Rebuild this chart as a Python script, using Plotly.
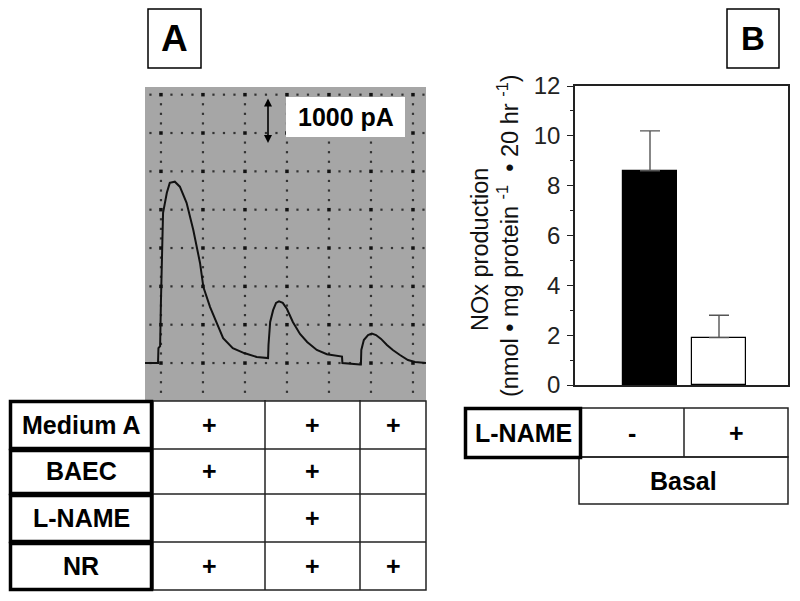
import numpy as np
import plotly.graph_objects as go

# ---------------- DATA ----------------
# Panel A: amperometric trace (x in grid divisions, y in grid divisions above baseline)
trace_time = [-0.38, -0.07, -0.06, -0.02, 0.00, 0.02, 0.05, 0.14, 0.21, 0.33, 0.45, 0.61, 0.77,
              0.93, 1.01, 1.17, 1.33, 1.48, 1.71, 1.98, 2.28, 2.55,
              2.56, 2.60, 2.67, 2.74, 2.81, 2.90, 3.00, 3.14, 3.31, 3.48, 3.71, 3.95, 4.31,
              4.32, 4.74, 4.76, 4.77, 4.83, 4.93, 5.02, 5.12, 5.24, 5.38, 5.52, 5.69, 5.88, 6.05, 6.31]
trace_current = [0.00, 0.00, 0.39, 0.44, 1.64, 2.95, 3.92, 4.44, 4.70, 4.73, 4.60, 4.18, 3.47,
                 2.61, 1.98, 1.46, 1.04, 0.65, 0.39, 0.26, 0.16, 0.13,
                 0.47, 1.07, 1.38, 1.57, 1.61, 1.57, 1.41, 1.07, 0.76, 0.55, 0.34, 0.23, 0.17,
                 0.00, -0.04, -0.04, 0.34, 0.60, 0.73, 0.77, 0.73, 0.63, 0.47, 0.34, 0.21, 0.08, 0.03, 0.00]
scale_label = "1000 pA"

table_a_rows = ["Medium A", "BAEC", "L-NAME", "NR"]
table_a_marks = [["+", "+", "+"],
                 ["+", "+", ""],
                 ["", "+", ""],
                 ["+", "+", "+"]]

# Panel B: NOx production
bar_categories = ["-", "+"]
nox_values = [8.6, 1.9]
nox_errors = [1.6, 0.9]
bar_colors = ["black", "white"]
y_title_line1 = "NOx production"
y_title_line2 = "(nmol \u2022 mg protein <sup>-1</sup>  \u2022 20 hr <sup>-1</sup>)"
table_b_label = "L-NAME"
table_b_group = "Basal"

# ---------------- LAYOUT HELPERS ----------------
OFF = 8                     # page body margin
W, H = 800 - OFF, 601 - OFF
FONT = "Liberation Sans, Arial, sans-serif"


def X(px):
    return (px - OFF) / W


def Y(py):
    return 1 - (py - OFF) / H


def text(px, py, s, size=25, bold=True, angle=0, color="black"):
    return dict(xref="paper", yref="paper", x=X(px), y=Y(py), xanchor="center", yanchor="middle",
                text=("<b>%s</b>" % s) if bold else s, showarrow=False, textangle=angle,
                font=dict(family=FONT, size=size, color=color))


fig = go.Figure()
shapes = []
annotations = []

# ---- Panel A trace background and dotted grid ----
xr_a = [-0.38, 6.31]
yr_a = [-0.99, 7.2]
shapes.append(dict(type="rect", xref="x domain", yref="y domain", x0=0, x1=1, y0=0, y1=1,
                   fillcolor="#a6a6a6", line=dict(width=0), layer="below"))

major_x = np.arange(0, 7)
major_y = np.arange(0, 8)
sub_x = np.arange(-0.25, 6.3, 0.25)
sub_y = np.arange(-0.75, 7.2, 0.25)
sx, sy = [], []
for yy in major_y:
    for xx in sub_x:
        if abs(xx - round(xx)) > 1e-6:
            sx.append(xx); sy.append(yy)
for xx in major_x:
    for yy in sub_y:
        if abs(yy - round(yy)) > 1e-6:
            sx.append(xx); sy.append(yy)
fig.add_trace(go.Scatter(x=sx, y=sy, mode="markers", xaxis="x", yaxis="y",
                         marker=dict(size=2.2, color="#333333", symbol="square"),
                         hoverinfo="skip", showlegend=False))
ix, iy = np.meshgrid(major_x, major_y)
fig.add_trace(go.Scatter(x=ix.ravel(), y=iy.ravel(), mode="markers", xaxis="x", yaxis="y",
                         marker=dict(size=3.5, color="#111111", symbol="square"),
                         hoverinfo="skip", showlegend=False))

fig.add_trace(go.Scatter(x=trace_time, y=trace_current, mode="lines", xaxis="x", yaxis="y",
                         line=dict(color="#111111", width=2), showlegend=False))

# scale bar box + arrow
shapes.append(dict(type="rect", xref="paper", yref="paper", x0=X(286), x1=X(405), y0=Y(137), y1=Y(97),
                   fillcolor="white", line=dict(width=0)))
annotations.append(text(345.5, 117, scale_label))
annotations.append(dict(xref="paper", yref="paper", x=X(268), y=Y(143), ax=0, ay=-46, text="",
                        showarrow=True, arrowhead=2, arrowside="end+start", arrowsize=1,
                        arrowwidth=1.6, arrowcolor="black"))

# Panel labels
for lbl, x0, x1, fs in [("A", 148, 201, 37), ("B", 727, 779, 33)]:
    shapes.append(dict(type="rect", xref="paper", yref="paper", x0=X(x0), x1=X(x1), y0=Y(68), y1=Y(9),
                       line=dict(color="black", width=1.5), fillcolor="white"))
    annotations.append(text((x0 + x1) / 2, 39, lbl, size=fs))

# ---- Table A ----
row_edges = [400, 449, 494, 542, 590]
col_edges = [153, 265, 360, 426]
shapes.append(dict(type="rect", xref="paper", yref="paper", x0=X(col_edges[0]), x1=X(col_edges[-1]),
                   y0=Y(row_edges[-1]), y1=Y(row_edges[0] + 1), line=dict(color="#222", width=1.5)))
for cx in col_edges[1:-1]:
    shapes.append(dict(type="line", xref="paper", yref="paper", x0=X(cx), x1=X(cx),
                       y0=Y(row_edges[-1]), y1=Y(row_edges[0]), line=dict(color="#222", width=1.5)))
for ry in row_edges[1:-1]:
    shapes.append(dict(type="line", xref="paper", yref="paper", x0=X(col_edges[0]), x1=X(col_edges[-1]),
                       y0=Y(ry), y1=Y(ry), line=dict(color="#222", width=1.5)))
for i, name in enumerate(table_a_rows):
    top, bot = row_edges[i], row_edges[i + 1]
    shapes.append(dict(type="rect", xref="paper", yref="paper", x0=X(10.5), x1=X(151.5),
                       y0=Y(bot - 0.5), y1=Y(top + 1.5), line=dict(color="black", width=3.5),
                       fillcolor="white"))
    annotations.append(text(81, (top + bot) / 2, name))
    for j, mark in enumerate(table_a_marks[i]):
        if mark:
            cx = (col_edges[j] + col_edges[j + 1]) / 2
            annotations.append(text(cx, (top + bot) / 2, mark))

# ---- Panel B bars ----
fig.add_trace(go.Bar(x=bar_categories, y=nox_values, xaxis="x2", yaxis="y2", width=0.78,
                     marker=dict(color=bar_colors, line=dict(color="black", width=1.2)),
                     error_y=dict(type="data", array=nox_errors, arrayminus=[0, 0], symmetric=False,
                                  color="#555555", thickness=1.4, width=10),
                     showlegend=False))

annotations.append(text(480, 249, y_title_line1, size=23.5, bold=False, angle=-90, color="#111"))
annotations.append(text(508, 235, y_title_line2, size=23.5, bold=False, angle=-90, color="#111"))

# ---- Table B ----
shapes.append(dict(type="rect", xref="paper", yref="paper", x0=X(581), x1=X(788), y0=Y(457), y1=Y(408),
                   line=dict(color="#222", width=1.5)))
shapes.append(dict(type="line", xref="paper", yref="paper", x0=X(684), x1=X(684), y0=Y(457), y1=Y(408),
                   line=dict(color="#222", width=1.5)))
shapes.append(dict(type="rect", xref="paper", yref="paper", x0=X(579), x1=X(788), y0=Y(504), y1=Y(457),
                   line=dict(color="#222", width=1.5)))
shapes.append(dict(type="rect", xref="paper", yref="paper", x0=X(465.5), x1=X(580.5), y0=Y(457.5), y1=Y(408.5),
                   line=dict(color="black", width=3.5), fillcolor="white"))
annotations.append(text(523, 433, table_b_label))
for cat, cx in zip(bar_categories, [632, 736]):
    annotations.append(text(cx, 433, cat))
annotations.append(text(683, 481, table_b_group))

fig.update_layout(
    width=W, height=H, margin=dict(l=0, r=0, t=0, b=0, pad=0, autoexpand=False),
    paper_bgcolor="white", plot_bgcolor="rgba(0,0,0,0)",
    showlegend=False,
    font=dict(family=FONT),
    xaxis=dict(domain=[X(145), X(426)], range=xr_a, visible=False, fixedrange=True),
    yaxis=dict(domain=[Y(401), Y(87)], range=yr_a, visible=False, fixedrange=True),
    xaxis2=dict(domain=[X(575), X(788)], anchor="y2", range=[-1.087, 2.0], showticklabels=False,
                ticks="", showline=True, mirror=True, linecolor="#222", linewidth=1.5, showgrid=False,
                zeroline=False),
    yaxis2=dict(domain=[Y(385), Y(86)], anchor="x2", range=[0, 12], dtick=2, tick0=0,
                ticks="outside", ticklen=6, tickwidth=1.2, tickcolor="#222",
                minor=dict(ticks="outside", ticklen=3, dtick=1, tickcolor="#222", tickwidth=1),
                showline=True, mirror=True, linecolor="#222", linewidth=1.5, showgrid=False,
                zeroline=False, tickfont=dict(family=FONT, size=24, color="#222"), ticklabelstandoff=2),
    shapes=shapes, annotations=annotations,
    bargap=0,
)

fig.write_html("out.html")
